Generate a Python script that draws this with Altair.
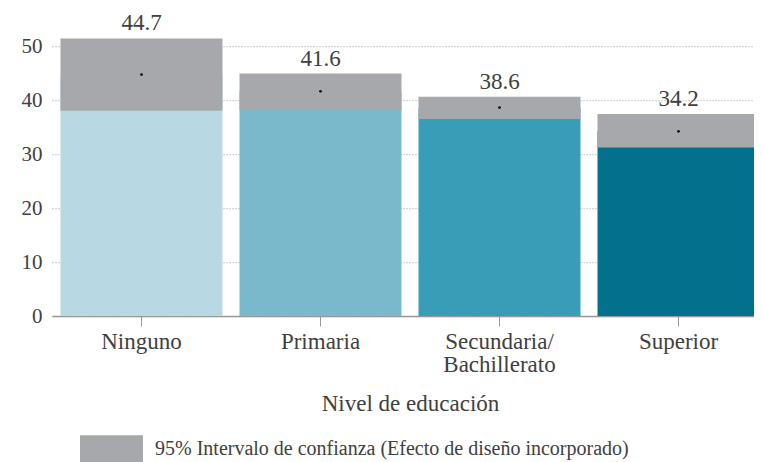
import altair as alt
import pandas as pd

categories = ["Ninguno", "Primaria", "Secundaria/Bachillerato", "Superior"]
values = [44.7, 41.6, 38.6, 34.2]
ci_lower = [38.0, 38.1, 36.5, 31.2]
ci_upper = [51.4, 44.9, 40.6, 37.4]
colors = ["#b8d8e4", "#7ab8cb", "#3a9db8", "#03708d"]
ci_label = "95% Intervalo de confianza (Efecto de diseño incorporado)"

df = pd.DataFrame({
    "cat": categories,
    "value": values,
    "lo": ci_lower,
    "hi": ci_upper,
    "ci": [ci_label] * 4,
    "label": [f"{v:.1f}" for v in values],
})

FONT = "Liberation Serif"
TXT = "#404040"

x = alt.X(
    "cat:N",
    sort=categories,
    scale=alt.Scale(paddingInner=0.095, paddingOuter=0.0475, range=[0, 716]),
    axis=alt.Axis(
        title="Nivel de educación",
        labelAngle=0,
        labelFont=FONT,
        labelFontSize=23,
        labelColor=TXT,
        labelPadding=4,
        labelLineHeight=23,
        labelExpr="datum.label == 'Secundaria/Bachillerato' ? ['Secundaria/', 'Bachillerato'] : datum.label",
        titleFont=FONT,
        titleFontSize=23,
        titleFontWeight="normal",
        titleColor=TXT,
        titlePadding=16,
        tickSize=10,
        tickColor="#999999",
        domainColor="#999999",
        domainWidth=1.5,
        grid=False,
    ),
)

base = alt.Chart(df)

bars = base.mark_bar().encode(
    x=x,
    y=alt.Y(
        "value:Q",
        scale=alt.Scale(domain=[0, 52], nice=False),
        axis=alt.Axis(
            title=None,
            values=[0, 10, 20, 30, 40, 50],
            labelFont=FONT,
            labelFontSize=21,
            labelColor=TXT,
            labelPadding=10,
            ticks=False,
            domain=False,
            grid=True,
            gridColor="#999999",
            gridDash=[1, 2],
            gridWidth=1,
        ),
    ),
    color=alt.Color("cat:N", sort=categories,
                    scale=alt.Scale(domain=categories, range=colors), legend=None),
)

ci = base.mark_bar().encode(
    x=x,
    y="lo:Q",
    y2="hi:Q",
    color=alt.Color(
        "ci:N",
        scale=alt.Scale(range=["#a7a8ab"]),
        legend=alt.Legend(
            title=None,
            orient="none",
            legendX=28,
            legendY=382,
            padding=0,
            symbolType="M-1,-0.43L1,-0.43L1,0.43L-1,0.43Z",
            symbolSize=3969,
            symbolStrokeWidth=0,
            symbolOpacity=1,
            labelFont=FONT,
            labelFontSize=20,
            labelColor=TXT,
            labelOffset=12,
            labelLimit=700,
        ),
    ),
)

dots = base.mark_circle(color="#111111", opacity=1, size=8).encode(
    x=x, y="value:Q"
)

labels = base.mark_text(font=FONT, fontSize=23, color=TXT, baseline="bottom", dy=-3).encode(
    x=x, y="hi:Q", text="label:N"
)

chart = (
    alt.layer(bars, ci, dots, labels)
    .resolve_scale(color="independent")
    .properties(
        width=702,
        height=280.8,
        autosize=alt.AutoSizeParams(type="none"),
        padding={"left": 44, "top": 27.2, "right": 0, "bottom": 150},
    )
    .configure_view(stroke=None)
)

chart.save("out.html", embed_options={"renderer": "svg", "actions": False})
